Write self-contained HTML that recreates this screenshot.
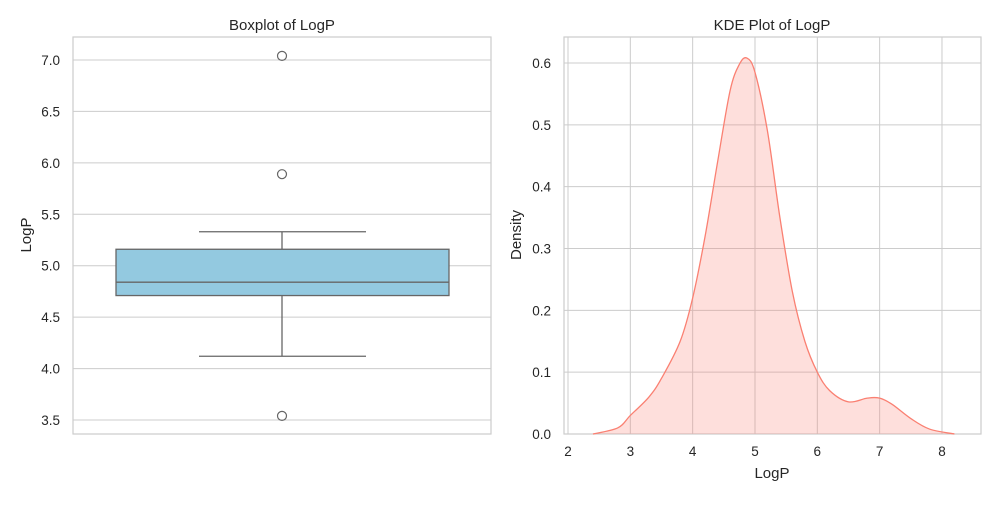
<!DOCTYPE html>
<html><head><meta charset="utf-8"><style>
body{margin:0;background:#fff;font-family:"Liberation Sans",sans-serif}
text{font-family:"Liberation Sans",sans-serif;fill:#262626}
</style></head><body>
<svg id="c" width="1000" height="500">
<g id="L"></g>
<g id="R"></g>
</svg>
<script>
// Boxplot data
const boxStats=[4.71,4.84,5.16];
const whiskers=[4.12,5.33];
const outliers=[7.04,5.89,3.54];
const leftTicks=[3.5,4.0,4.5,5.0,5.5,6.0,6.5,7.0];
// KDE data
const kdeX=[2.4,2.8,3.0,3.3,3.5,3.8,4.0,4.2,4.4,4.6,4.75,4.87,5.0,5.2,5.4,5.6,5.8,6.0,6.2,6.5,6.8,7.0,7.2,7.5,7.8,8.2];
const kdeY=[0,0.01,0.03,0.06,0.09,0.15,0.22,0.32,0.44,0.555,0.598,0.608,0.585,0.49,0.35,0.23,0.15,0.10,0.07,0.052,0.058,0.058,0.048,0.025,0.008,0];
const rxTicks=[2,3,4,5,6,7,8];
const ryTicks=[0,0.1,0.2,0.3,0.4,0.5,0.6];
const NS="http://www.w3.org/2000/svg";
function mk(p,t,a,txt){const e=document.createElementNS(NS,t);for(const k in a)e.setAttribute(k,a[k]);if(txt!=null)e.textContent=txt;p.appendChild(e);return e;}
const L=document.getElementById('L'),R=document.getElementById('R');
const ly=v=>60+(7.0-v)*102.86;
leftTicks.forEach(v=>{
 const g=mk(L,'line',{x1:73,x2:491,y1:ly(v),y2:ly(v),stroke:'#cccccc','stroke-width':1});
 
 
 const t=mk(L,'text',{x:60,y:ly(v)+5,'text-anchor':'end','font-size':13.5},v.toFixed(1));
 
 
});
mk(L,'rect',{x:73,y:37,width:418,height:397,fill:'none',stroke:'#cccccc','stroke-width':1.2});
let t=mk(L,'text',{x:282,y:30,'text-anchor':'middle','font-size':15},'Boxplot of LogP');


t=mk(L,'text',{x:31,y:235,'text-anchor':'middle','font-size':15,transform:'rotate(-90 31 235)'},'LogP');


const cx=282;
let e=mk(L,'line',{x1:cx,x2:cx,y1:ly(whiskers[0]),y2:ly(boxStats[0]),stroke:'#666','stroke-width':1.3});


e=mk(L,'line',{x1:cx,x2:cx,y1:ly(boxStats[2]),y2:ly(whiskers[1]),stroke:'#666','stroke-width':1.3});


whiskers.forEach(w=>{const c=mk(L,'line',{x1:199,x2:366,y1:ly(w),y2:ly(w),stroke:'#666','stroke-width':1.3});

});
e=mk(L,'rect',{x:116,y:ly(boxStats[2]),width:333,height:ly(boxStats[0])-ly(boxStats[2]),fill:'#93c9e0',stroke:'#666','stroke-width':1.3});


e=mk(L,'line',{x1:116,x2:449,y1:ly(boxStats[1]),y2:ly(boxStats[1]),stroke:'#666','stroke-width':1.3});


outliers.forEach(o=>{const c=mk(L,'circle',{cx:cx,cy:ly(o),r:4.5,fill:'none',stroke:'#666','stroke-width':1.2});

});
const rx=v=>568+(v-2)*62.33, ry=v=>434-v*618.3;
rxTicks.forEach(v=>{
 const g=mk(R,'line',{x1:rx(v),x2:rx(v),y1:37,y2:434,stroke:'#cccccc','stroke-width':1});
 
 
 const tt=mk(R,'text',{x:rx(v),y:456,'text-anchor':'middle','font-size':13.5},String(v));
 
 
});
ryTicks.forEach(v=>{
 const g=mk(R,'line',{x1:564,x2:981,y1:ry(v),y2:ry(v),stroke:'#cccccc','stroke-width':1});
 
 
 const tt=mk(R,'text',{x:551,y:ry(v)+5,'text-anchor':'end','font-size':13.5},v.toFixed(1));
 
 
});
mk(R,'rect',{x:564,y:37,width:417,height:397,fill:'none',stroke:'#cccccc','stroke-width':1.2});
t=mk(R,'text',{x:772,y:30,'text-anchor':'middle','font-size':15},'KDE Plot of LogP');


t=mk(R,'text',{x:772,y:478,'text-anchor':'middle','font-size':15},'LogP');


t=mk(R,'text',{x:521,y:235,'text-anchor':'middle','font-size':15,transform:'rotate(-90 521 235)'},'Density');


const pts=kdeX.map((x,i)=>[rx(x),ry(kdeY[i])]);
let d='M'+pts[0][0]+','+pts[0][1];
for(let i=0;i<pts.length-1;i++){const p0=pts[Math.max(0,i-1)],p1=pts[i],p2=pts[i+1],p3=pts[Math.min(pts.length-1,i+2)];
 d+=` C${p1[0]+(p2[0]-p0[0])/6},${p1[1]+(p2[1]-p0[1])/6} ${p2[0]-(p3[0]-p1[0])/6},${p2[1]-(p3[1]-p1[1])/6} ${p2[0]},${p2[1]}`;}
e=mk(R,'path',{d:d+` L${pts[pts.length-1][0]},434 L${pts[0][0]},434 Z`,fill:'#fa8072','fill-opacity':0.25,stroke:'none'});


e=mk(R,'path',{d:d,fill:'none',stroke:'#fa8072','stroke-width':1.3});


</script>
</body></html>
